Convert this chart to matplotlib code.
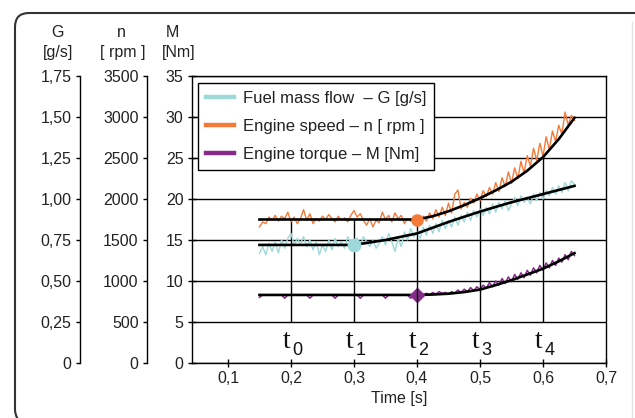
import matplotlib
matplotlib.use('Agg')
import matplotlib.pyplot as plt
from matplotlib.patches import FancyBboxPatch
from matplotlib.lines import Line2D
import numpy as np

plt.rcParams['font.family'] = ['Liberation Sans', 'DejaVu Sans']

# ---------------- data ----------------
t_start, t_end, t_step = 0.15, 0.65, 0.005
time = np.round(np.arange(t_start, t_end + 1e-9, t_step), 3)

n_vals = [
    1660, 1720, 1700, 1780, 1740, 1800, 1730, 1790, 1760, 1840,
    1720, 1780, 1700, 1760, 1870, 1740, 1820, 1700, 1760, 1730,
    1790, 1750, 1810, 1760, 1720, 1790, 1740, 1770, 1720, 1800,
    1860, 1780, 1820, 1740, 1680, 1760, 1660, 1740, 1710, 1840,
    1750, 1800, 1720, 1830, 1760, 1800, 1700, 1760, 1730, 1790,
    1740, 1700, 1790, 1730, 1830, 1760, 1870, 1780, 1900, 1800,
    1950, 1830, 2060, 2110, 1880, 1960, 1900, 2010, 1950, 2060,
    1980, 2100, 2030, 2140, 2060, 2200, 2090, 2260, 2150, 2330,
    2190, 2380, 2250, 2460, 2320, 2530, 2400, 2620, 2470, 2680,
    2520, 2760, 2600, 2830, 2700, 2900, 2790, 3060, 2900, 3020,
    2960]

G_vals = [
    0.67, 0.71, 0.66, 0.73, 0.68, 0.74, 0.67, 0.75, 0.70, 0.76,
    0.79, 0.72, 0.76, 0.73, 0.77, 0.71, 0.75, 0.69, 0.74, 0.66,
    0.72, 0.68, 0.75, 0.69, 0.76, 0.71, 0.74, 0.70, 0.77, 0.73,
    0.72, 0.76, 0.71, 0.77, 0.74, 0.71, 0.75, 0.70, 0.73, 0.77,
    0.72, 0.79, 0.74, 0.68, 0.76, 0.71, 0.80, 0.75, 0.82, 0.77,
    0.80, 0.76, 0.83, 0.78, 0.84, 0.79, 0.85, 0.80, 0.87, 0.82,
    0.87, 0.83, 0.89, 0.84, 0.90, 0.86, 0.92, 0.87, 0.93, 0.89,
    0.94, 0.90, 0.95, 0.91, 0.97, 0.92, 0.98, 0.94, 0.99, 0.93,
    0.97, 1.01, 0.96, 1.02, 0.98, 1.01, 0.97, 1.03, 0.99, 1.04,
    1.00, 1.05, 1.02, 1.07, 1.03, 1.08, 1.04, 1.10, 1.05, 1.11,
    1.09]

M_vals = [
    8.0, 8.3, 8.3, 8.3, 8.3, 8.3, 8.3, 8.3, 7.9, 8.3,
    8.3, 8.3, 8.3, 8.3, 8.3, 8.3, 7.9, 8.3, 8.3, 8.3,
    8.3, 8.3, 8.3, 8.3, 7.9, 8.3, 8.3, 8.3, 8.3, 8.3,
    8.3, 8.3, 7.9, 8.3, 8.3, 8.3, 8.3, 8.3, 8.3, 8.3,
    7.9, 8.3, 8.3, 8.3, 8.3, 8.3, 8.3, 8.3, 7.9, 8.3,
    8.3, 8.3, 8.2, 8.5, 8.3, 8.6, 8.4, 8.7, 8.5, 8.6,
    8.4, 8.7, 8.5, 8.9, 8.6, 9.0, 8.7, 9.2, 8.8, 9.3,
    9.0, 9.5, 9.1, 9.8, 9.3, 10.0, 9.5, 10.3, 9.7, 10.5,
    9.9, 10.8, 10.2, 11.0, 10.4, 11.3, 10.7, 11.6, 11.0, 11.9,
    11.3, 12.2, 11.6, 12.5, 11.9, 12.8, 12.3, 13.2, 12.6, 13.6,
    13.1]

fit_t = [0.15, 0.2, 0.25, 0.3, 0.35, 0.4, 0.425, 0.45, 0.475, 0.5,
         0.525, 0.55, 0.575, 0.6, 0.625, 0.65]
n_fit = [1750, 1750, 1750, 1750, 1750, 1750, 1790, 1850, 1925, 2010,
         2105, 2210, 2345, 2510, 2730, 2990]
G_fit = [0.72, 0.72, 0.72, 0.72, 0.75, 0.79, 0.825, 0.86, 0.892, 0.923,
         0.952, 0.98, 1.005, 1.03, 1.055, 1.08]
M_fit = [8.3, 8.3, 8.3, 8.3, 8.3, 8.3, 8.35, 8.45, 8.65, 8.95,
         9.5, 10.1, 10.8, 11.5, 12.4, 13.4]

t_marks = [0.2, 0.3, 0.4, 0.5, 0.6]
t_mark_labels = ['0', '1', '2', '3', '4']
mark_bottom_n = 500
mark_top_n = [1750, 1750, 1750, 2010, 2510]

G_point = (0.3, 0.72)
n_point = (0.4, 1750)
M_point = (0.4, 8.3)

x_ticks = [0.1, 0.2, 0.3, 0.4, 0.5, 0.6, 0.7]
x_tick_labels = ['0,1', '0,2', '0,3', '0,4', '0,5', '0,6', '0,7']
M_ticks = [0, 5, 10, 15, 20, 25, 30, 35]
n_ticks = [0, 500, 1000, 1500, 2000, 2500, 3000, 3500]
G_ticks = [0, 0.25, 0.5, 0.75, 1.0, 1.25, 1.5, 1.75]
G_tick_labels = ['0', '0,25', '0,50', '0,75', '1,00', '1,25', '1,50', '1,75']

labels = ['Fuel mass flow  \u2013 G [g/s]',
          'Engine speed \u2013 n [ rpm ]',
          'Engine torque \u2013 M [Nm]']

c_G = '#9fd8d8'
c_n = '#f57a38'
c_M = '#882a8c'
txt = '#222222'

# ---------------- figure ----------------
W, H = 635, 418
fig = plt.figure(figsize=(W / 100, H / 100), dpi=100)
fig.patch.set_facecolor('white')
rect = [192 / W, (H - 363) / H, 414 / W, 287 / H]
xlim = (0.0429, 0.7)

ax = fig.add_axes(rect)
axN = fig.add_axes(rect)
axG = fig.add_axes(rect)

ax.set_xlim(*xlim)
ax.set_ylim(0, 35)
ax.set_yticks(M_ticks)
ax.set_xticks(x_ticks)
ax.set_xticklabels(x_tick_labels)
ax.yaxis.grid(True, color='black', lw=1)
ax.set_axisbelow(True)
for s in ax.spines.values():
    s.set_color('black')
    s.set_linewidth(1)
ax.tick_params(axis='both', direction='inout', length=6, width=1,
               labelsize=11.5, labelcolor=txt, pad=3)
ax.set_xlabel('Time [s]', fontsize=11.5, color=txt, labelpad=3)

for a, ylim, offset_px in ((axN, (0, 3500), 45), (axG, (0, 1.75), 112)):
    a.patch.set_visible(False)
    a.set_xlim(*xlim)
    a.set_ylim(*ylim)
    a.xaxis.set_visible(False)
    for s in ('top', 'right', 'bottom'):
        a.spines[s].set_visible(False)
    a.spines['left'].set_position(('outward', offset_px * 0.72))
    a.spines['left'].set_linewidth(1)
    a.tick_params(axis='y', direction='out', length=3, width=1,
                  labelsize=11.5, labelcolor=txt, pad=3)

axN.set_yticks(n_ticks)
axG.set_yticks(G_ticks)
axG.set_yticklabels(G_tick_labels)

# torque (main axis)
ax.plot(time, M_vals, color=c_M, lw=1.1, zorder=3)
ax.plot(fit_t, M_fit, color='black', lw=1.9, zorder=4)
ax.plot(*M_point, marker='D', color=c_M, ms=7, zorder=5)

# speed
axN.vlines(t_marks, mark_bottom_n, mark_top_n, color='black', lw=1, zorder=1)
axN.plot(time, n_vals, color=c_n, lw=1.0, zorder=3)
axN.plot(fit_t, n_fit, color='black', lw=1.9, zorder=4)
axN.plot(*n_point, marker='o', color=c_n, ms=8, zorder=5)

# fuel
axG.plot(time, G_vals, color=c_G, lw=1.0, zorder=3)
axG.plot(fit_t, G_fit, color='black', lw=1.9, zorder=4)
axG.plot(*G_point, marker='o', color=c_G, ms=9, zorder=5)

# t labels
for tm, lab in zip(t_marks, t_mark_labels):
    ax.text(tm - 0.0015, 1.8, 't', family='Liberation Serif', fontsize=20,
            ha='right', va='baseline', color='#111111')
    ax.text(tm + 0.002, 0.95, lab, fontsize=13, ha='left', va='baseline',
            color='#111111')

# legend
handles = [Line2D([], [], color=c, lw=3.2) for c in (c_G, c_n, c_M)]
leg = axG.legend(handles, labels, loc='upper left',
                 bbox_to_anchor=(6 / 414, (363 - 83) / 287),
                 borderaxespad=0, fontsize=12, frameon=True, fancybox=False,
                 edgecolor='black', framealpha=1, handlelength=1.7,
                 handletextpad=0.55, labelspacing=0.8, borderpad=0.45)
leg.get_frame().set_linewidth(1)
for tx in leg.get_texts():
    tx.set_color(txt)
leg.set_zorder(10)

# axis headers
hdr = [(58, 32.5, 'G'), (58, 53, '[g/s]'), (121.5, 32.5, 'n'),
       (122.5, 53, '[ rpm ]'), (172, 32.5, 'M'), (179, 53, '[Nm]')]
for x, y, s in hdr:
    fig.text(x / W, 1 - y / H, s, ha='center', va='center',
             fontsize=11.5, color=txt)

# outer rounded frame
frame = FancyBboxPatch((15 / 100, -0.05), 6.8, (H - 13) / 100 + 0.05,
                       boxstyle='round,pad=0,rounding_size=0.14',
                       transform=fig.dpi_scale_trans, fill=False,
                       ec='#333333', lw=1.5)
fig.add_artist(frame)
fig.add_artist(Line2D([632 / W, 632 / W], [0, 1 - 22 / H],
                      transform=fig.transFigure, color='#e2e2e2', lw=1))

fig.savefig('out.png', dpi=100)
